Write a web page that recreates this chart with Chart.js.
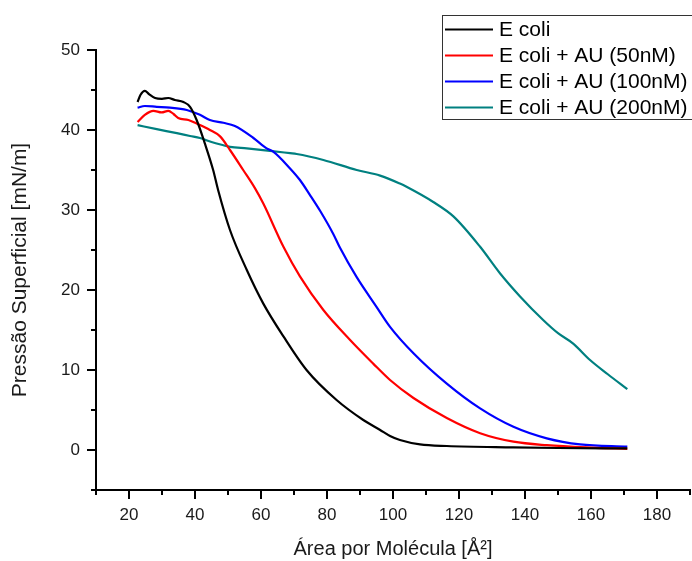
<!DOCTYPE html>
<html>
<head>
<meta charset="utf-8">
<script src="https://cdn.jsdelivr.net/npm/chart.js@4/dist/chart.umd.min.js"></script>
<style>
  html, body { margin: 0; padding: 0; background: #fff; }
  #wrap { width: 692px; height: 561px; position: relative; }
</style>
</head>
<body>
<div id="wrap"><canvas id="c" width="692" height="561"></canvas></div>
<script>
// ---- data ----
const seriesNames = ["E coli", "E coli + AU (50nM)", "E coli + AU (100nM)", "E coli + AU (200nM)"];
const seriesColors = ["#000000", "#ff0000", "#0000ff", "#008080"];

const ecoliX = [22.6, 23.5, 24.8, 26.0, 27.9, 30.0, 31.9, 33.9, 36.5, 38.5, 40.5, 43.0, 45.5, 47.0, 50.6, 55.7, 60.7, 66.8, 73.8, 82.9, 91.0, 96.1, 99.1, 102.1, 108.2, 116.3, 136.4, 150.0, 171.0];
const ecoliY = [43.5, 44.4, 44.9, 44.5, 44.0, 43.9, 44.0, 43.75, 43.5, 42.9, 41.25, 38.3, 35.0, 32.5, 27.5, 22.5, 18.3, 14.2, 10.0, 6.25, 3.75, 2.5, 1.75, 1.25, 0.7, 0.5, 0.33, 0.25, 0.2];

const au50X = [22.6, 24.8, 27.4, 29.9, 31.9, 33.5, 34.9, 38.0, 40.5, 44.5, 47.6, 50.6, 54.6, 58.2, 60.7, 66.8, 71.8, 78.9, 87.0, 94.0, 99.1, 106.2, 116.3, 126.4, 136.5, 146.6, 160.0, 171.0];
const au50Y = [41.0, 41.9, 42.4, 42.2, 42.4, 42.0, 41.5, 41.25, 40.8, 40.0, 39.2, 37.5, 35.0, 32.7, 30.8, 25.4, 21.7, 17.5, 13.75, 10.8, 8.75, 6.5, 4.0, 2.1, 1.04, 0.6, 0.3, 0.15];

const au100X = [22.6, 24.8, 28.4, 32.4, 37.5, 41.5, 44.5, 48.6, 52.1, 57.7, 61.7, 63.7, 68.8, 71.8, 74.8, 77.9, 81.9, 83.9, 89.0, 95.0, 99.1, 106.2, 116.3, 126.4, 136.5, 146.6, 156.7, 171.0];
const au100Y = [42.8, 43.0, 42.9, 42.8, 42.5, 41.9, 41.25, 40.9, 40.5, 39.0, 37.7, 37.3, 35.2, 33.75, 31.9, 29.9, 27.0, 25.3, 21.6, 17.9, 15.4, 12.1, 8.3, 5.2, 2.9, 1.46, 0.7, 0.42];

const au200X = [22.6, 28.4, 34.5, 38.5, 41.5, 45.0, 48.6, 50.6, 55.7, 62.7, 68.8, 70.8, 78.9, 89.0, 96.1, 102.1, 104.1, 112.2, 118.3, 126.4, 132.4, 138.5, 145.5, 150.0, 154.6, 159.7, 165.0, 171.0];
const au200Y = [40.6, 40.1, 39.6, 39.25, 39.0, 38.5, 38.1, 37.9, 37.7, 37.4, 37.1, 37.0, 36.25, 35.0, 34.3, 33.3, 32.9, 31.0, 29.2, 25.4, 22.1, 19.2, 16.25, 14.6, 13.3, 11.25, 9.5, 7.6];

const xMajorTicks = [20, 40, 60, 80, 100, 120, 140, 160, 180];
const xMinorTicks = [10, 30, 50, 70, 90, 110, 130, 150, 170, 190];
const yMajorTicks = [0, 10, 20, 30, 40, 50];
const yMinorTicks = [-5, 5, 15, 25, 35, 45];

const xTitle = "Área por Molécula [Å²]";
const yTitle = "Pressão Superficial [mN/m]";

// ---- build ----
const FONT = "'Liberation Sans', Arial, Helvetica, sans-serif";
const allX = [ecoliX, au50X, au100X, au200X];
const allY = [ecoliY, au50Y, au100Y, au200Y];

const datasets = seriesNames.map((name, i) => ({
  label: name,
  data: allX[i].map((x, j) => ({ x: x, y: allY[i][j] })),
  borderColor: seriesColors[i],
  backgroundColor: seriesColors[i],
  borderWidth: 2.2,
  pointRadius: 0,
  showLine: true,
  cubicInterpolationMode: 'monotone',
  borderJoinStyle: 'round',
  fill: false
}));

const tickPlugin = {
  id: 'minorMajorTicks',
  afterDraw(chart) {
    const ctx = chart.ctx;
    const xs = chart.scales.x, ys = chart.scales.y;
    const ca = chart.chartArea;
    ctx.save();
    ctx.strokeStyle = '#000';
    ctx.lineWidth = 2;
    ctx.beginPath();
    xMajorTicks.forEach(v => { const p = Math.round(xs.getPixelForValue(v)); ctx.moveTo(p, ca.bottom); ctx.lineTo(p, ca.bottom + 9); });
    xMinorTicks.forEach(v => { const p = Math.round(xs.getPixelForValue(v)); ctx.moveTo(p, ca.bottom); ctx.lineTo(p, ca.bottom + 5); });
    yMajorTicks.forEach(v => { const p = Math.round(ys.getPixelForValue(v)); ctx.moveTo(ca.left, p); ctx.lineTo(ca.left - 9, p); });
    yMinorTicks.forEach(v => { const p = Math.round(ys.getPixelForValue(v)); ctx.moveTo(ca.left, p); ctx.lineTo(ca.left - 5, p); });
    ctx.stroke();
    ctx.restore();
  }
};

const legendPlugin = {
  id: 'boxLegend',
  afterDraw(chart) {
    const ctx = chart.ctx;
    ctx.save();
    ctx.strokeStyle = '#333';
    ctx.lineWidth = 1;
    ctx.strokeRect(442.5, 15.5, 300, 104);
    ctx.font = '21px ' + FONT;
    ctx.textBaseline = 'middle';
    ctx.textAlign = 'left';
    chart.data.datasets.forEach((ds, i) => {
      const y = 29.5 + i * 26;
      ctx.strokeStyle = ds.borderColor;
      ctx.lineWidth = 2;
      ctx.beginPath();
      ctx.moveTo(445, y);
      ctx.lineTo(493, y);
      ctx.stroke();
      ctx.fillStyle = '#000';
      ctx.fillText(ds.label, 499, y + 0.5);
    });
    ctx.restore();
  }
};

new Chart(document.getElementById('c'), {
  type: 'scatter',
  data: { datasets: datasets },
  options: {
    responsive: false,
    animation: false,
    devicePixelRatio: 1,
    layout: { padding: { left: 0, top: 50, right: 2, bottom: 0 } },
    plugins: { legend: { display: false }, tooltip: { enabled: false } },
    scales: {
      x: {
        type: 'linear',
        min: 10, max: 190,
        afterBuildTicks: (s) => { s.ticks = xMajorTicks.map(v => ({ value: v })); },
        afterFit: (s) => { s.height = 71; },
        grid: { display: false, drawTicks: false },
        border: { display: true, color: '#000', width: 2 },
        ticks: { padding: 15, color: '#1a1a1a', font: { family: FONT, size: 17 }, maxRotation: 0, autoSkip: false },
        title: { display: true, text: xTitle, color: '#1a1a1a', font: { family: FONT, size: 20 }, padding: { top: 0, bottom: 0 } }
      },
      y: {
        type: 'linear',
        min: -5, max: 50,
        afterBuildTicks: (s) => { s.ticks = yMajorTicks.map(v => ({ value: v })); },
        afterFit: (s) => { s.width = 96; },
        grid: { display: false, drawTicks: false },
        border: { display: true, color: '#000', width: 2 },
        ticks: { padding: 16, color: '#1a1a1a', font: { family: FONT, size: 17 }, autoSkip: false },
        title: { display: true, text: yTitle, color: '#1a1a1a', font: { family: FONT, size: 21 }, padding: { top: 8, bottom: 0 } }
      }
    }
  },
  plugins: [tickPlugin, legendPlugin]
});
</script>
</body>
</html>
